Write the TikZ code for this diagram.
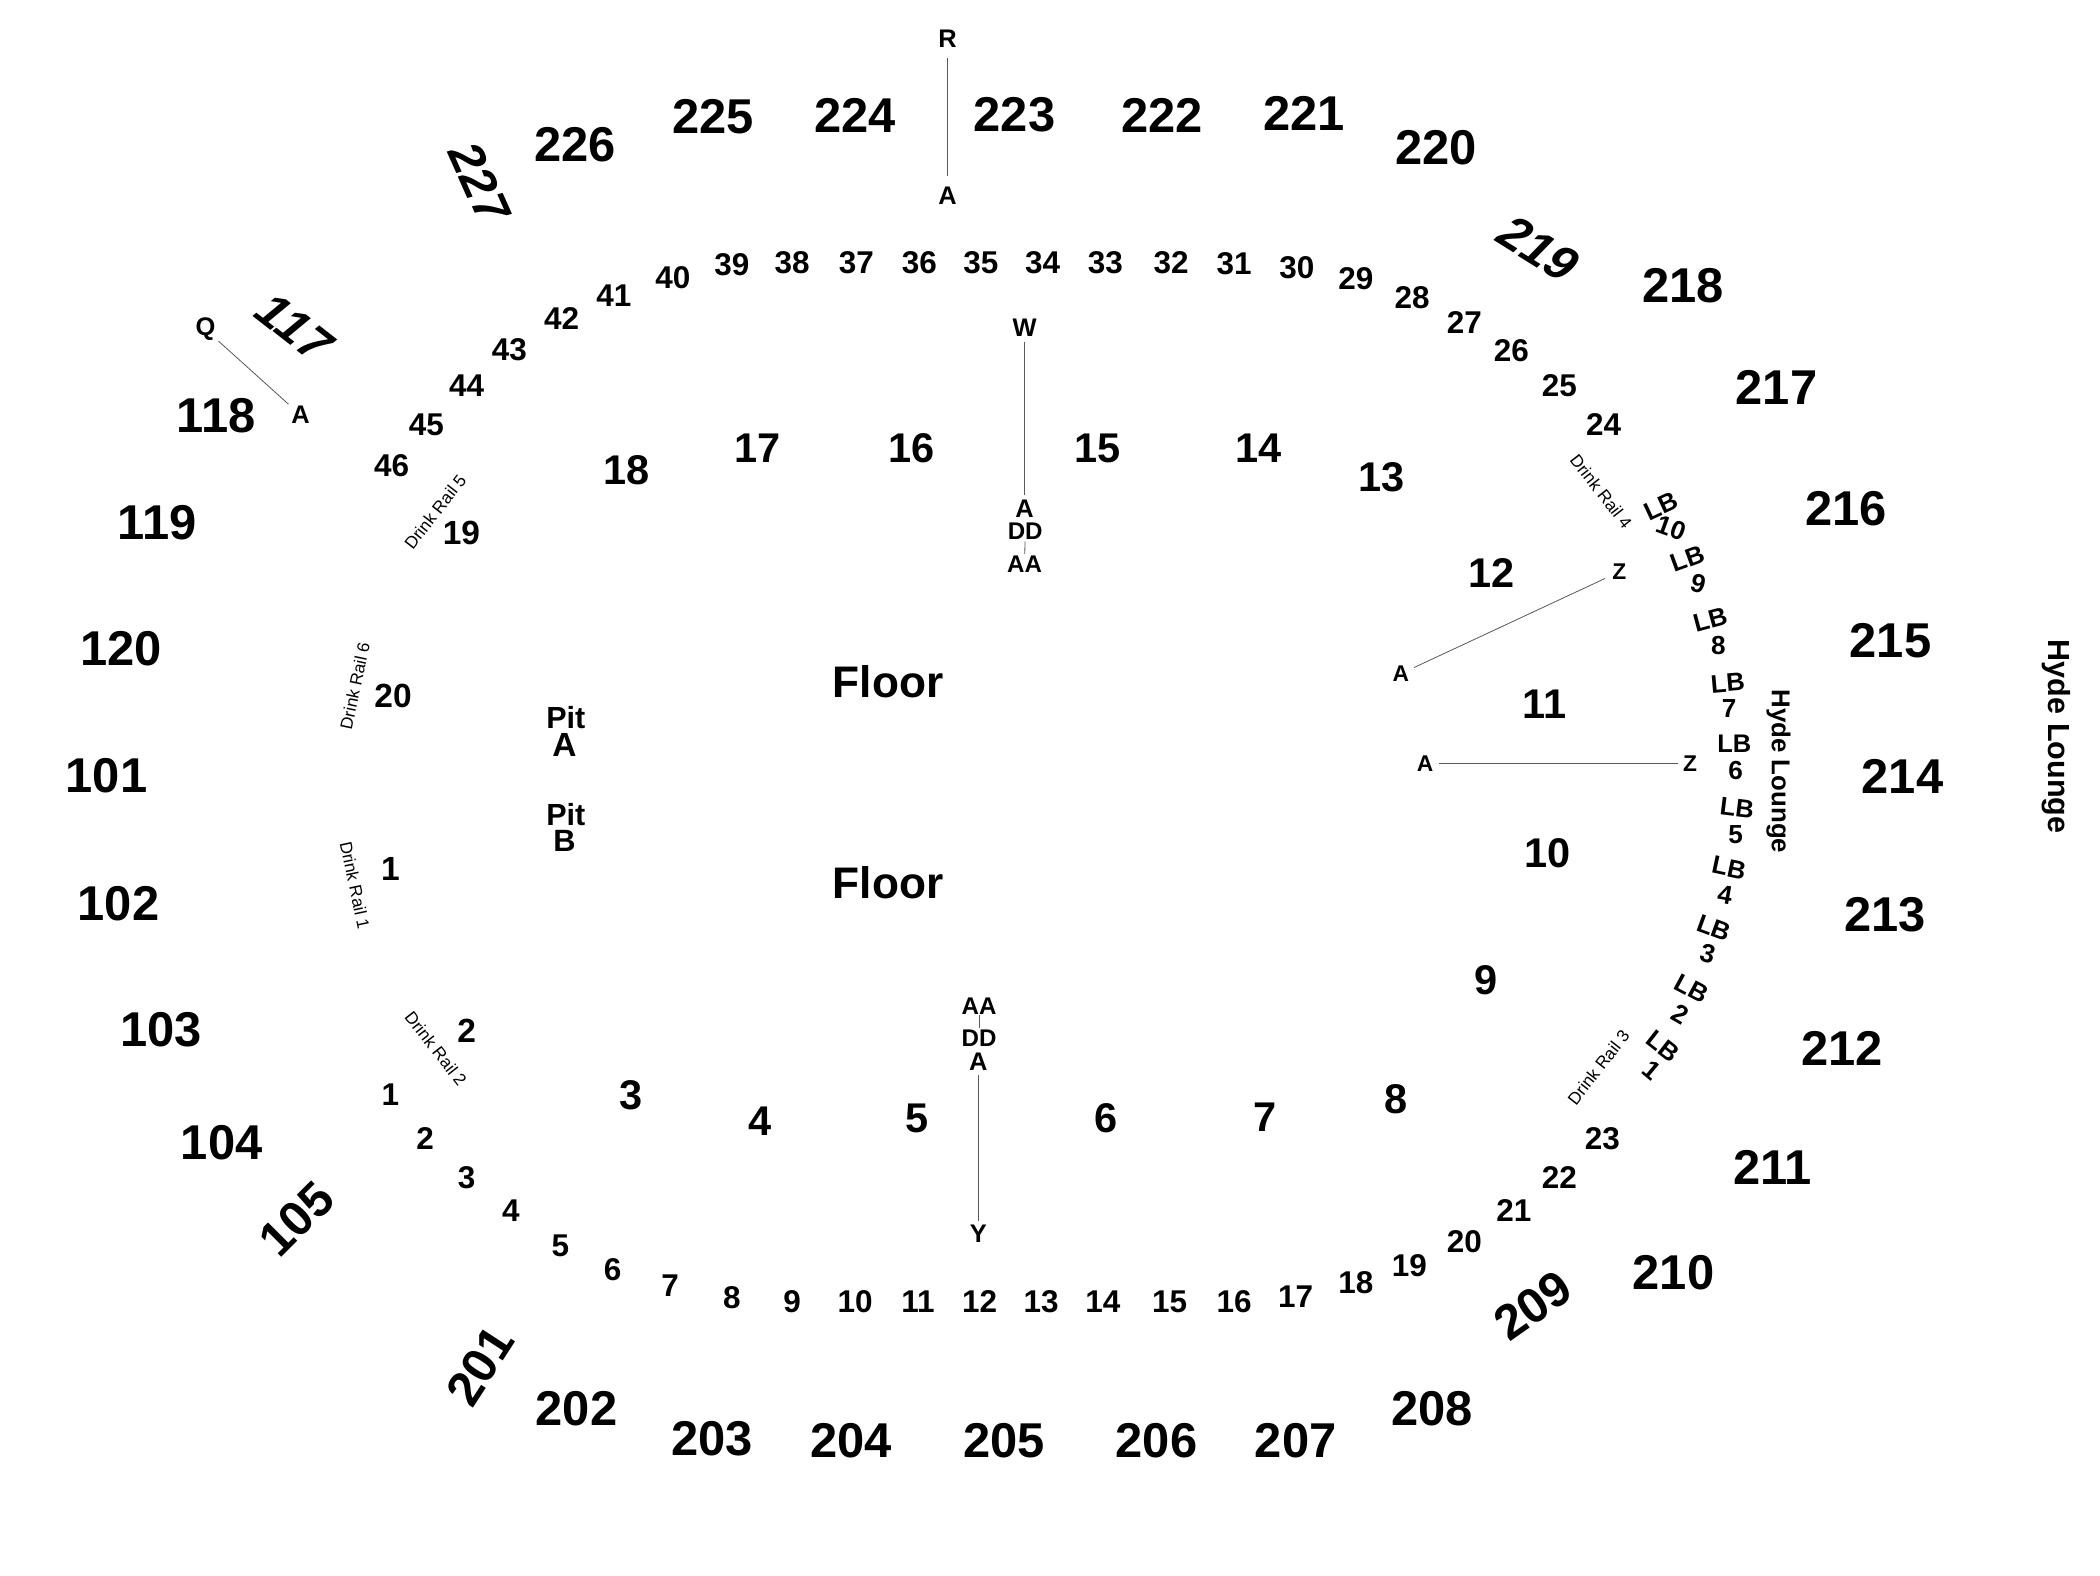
\documentclass[tikz,border=0pt]{standalone}
\usepackage{fontspec}
\setmainfont{Liberation Sans}
\newcommand{\fsz}[1]{\fontsize{#1}{#1}\selectfont\bfseries}
\tikzset{
  lab/.style={inner sep=0pt,outer sep=0pt,text=black,align=center},
  bignum/.style={lab,xshift=0.5pt,font=\fsz{36.5}},
  secnum/.style={lab,xshift=0.5pt,font=\fsz{31}},
  midnum/.style={lab,xshift=0.5pt,font=\fsz{25}},
  rownum/.style={lab,xshift=0.4pt,font=\fsz{23.5}},
  letter/.style={lab,font=\fsz{19}},
  pitlab/.style={lab,xshift=0.5pt,font=\fsz{22.8}},
  lblab/.style={lab,font=\fsz{19}},
  lbnum/.style={lab,font=\fsz{19.5}},
  floorlab/.style={lab,font=\fsz{33}},
  hyde/.style={lab,rotate=-90},
  rail/.style={lab,font=\fontsize{12.8}{12.8}\selectfont},
  warp/.style={transform shape},
  rowline/.style={draw=black!65,line width=0.6pt,shorten >=1pt,shorten <=1pt}
}
\begin{document}
\begin{tikzpicture}[x=1pt,y=-1pt]
\useasboundingbox[fill=white] (0,0) rectangle (1568,1176.7);
% outer sections
\foreach \x/\y/\t [count=\i] in {
 429/108/226,532/87/225,638/86/224,757/86/223,867/86/222,973/85/221,1072/110/220,
 1256/213/218,1326/289/217,1378/380/216,1411/478/215,1420/580/214,1407/683/213,
 1375/783/212,1323/872/211,1249/950/210,1069/1052/208,967/1076/207,863/1076/206,
 749/1076/205,635/1076/204,531/1074/203,430/1052/202,165/853/104,120/769/103,
 88/675/102,79/579/101,90/484/120,117/390/119,161/310/118}
  \node[bignum] (out\i) at (\x,\y) {\t};
% warped outer sections
\node[bignum,warp,rotate=-66,xslant=0.15] (w227) at (358,137) {227};
\node[bignum,warp,rotate=-38,xslant=0.22] (w117) at (220,245) {117};
\node[bignum,warp,rotate=-32,xslant=0.22] (w219) at (1149,186) {219};
\node[bignum,warp,rotate=35] (w209) at (1144,975) {209};
\node[bignum,warp,rotate=57] (w201) at (358,1020) {201};
\node[bignum,warp,rotate=45] (w105) at (221,910) {105};
% floor sections
\foreach \x/\y/\t [count=\i] in {
 467/351/18,565/335/17,680/335/16,819/335/15,939/335/14,1031/356/13,1113/428/12,
 1153/526/11,1155/637/10,1109/732/9,1042/821/8,944/834/7,825/835/6,684/835/5,567/837/4,471/818/3}
  \node[secnum] (sec\i) at (\x,\y) {\t};
\foreach \x/\y/\t [count=\i] in {344/398/19,293/520/20,291/649/1,348/770/2}
  \node[midnum] (mid\i) at (\x,\y) {\t};
% upper row numbers
\foreach \x/\y/\t [count=\i] in {
 292/348/46,318/317/45,348/288/44,380/261/43,419/238/42,458/221/41,502/207/40,546/198/39,
 591/196/38,639/196/37,686/196/36,732/196/35,778/196/34,825/196/33,874/196/32,921/197/31,
 968/200/30,1012/208/29,1054/222/28,1093/241/27,1128/262/26,1164/288/25,1197/317/24}
  \node[rownum] (up\i) at (\x,\y) {\t};
% lower row numbers
\foreach \x/\y/\t [count=\i] in {
 291/817/1,317/850/2,348/879/3,381/904/4,418/930/5,457/948/6,500/960/7,546/969/8,591/972/9,
 638/972/10,685/972/11,731/972/12,777/972/13,823/972/14,873/972/15,921/972/16,967/968/17,
 1012/958/18,1052/945/19,1093/927/20,1130/904/21,1164/879/22,1196/850/23}
  \node[rownum] (lo\i) at (\x,\y) {\t};
% floor
\node[floorlab] (floorA) at (663,509) {Floor};
\node[floorlab] (floorB) at (663,659) {Floor};
\node[pitlab] (pitA) at (422,536) {Pit};
\node[lab,xshift=0.5pt,font=\fsz{25}] (pitAa) at (421,556) {A};
\node[pitlab] (pitB) at (422,608) {Pit};
\node[lab,xshift=0.5pt,font=\fsz{23}] (pitBb) at (421,628) {B};
% row letters and their lines
\node[letter] (R) at (707.5,29) {R};
\node[letter] (Atop) at (707.5,146) {A};
\draw[rowline,shorten >=8pt,shorten <=8pt] (R) -- (Atop);
\node[letter] (W) at (765,245) {W};
\node[letter] (Aup) at (765,380) {A};
\node[letter,font=\fsz{18}] (DDup) at (765.5,397) {DD};
\node[letter,font=\fsz{18}] (AAup) at (765,421) {AA};
\draw[rowline,shorten >=4pt,shorten <=4pt] (W) -- (Aup);
\draw[rowline,shorten >=1pt,shorten <=1pt] (DDup) -- (AAup);
\node[letter,font=\fsz{18}] (AAlo) at (731,751) {AA};
\node[letter,font=\fsz{18}] (DDlo) at (731,775) {DD};
\node[letter] (Alo) at (730.5,793) {A};
\node[letter] (Y) at (730.5,921) {Y};
\draw[rowline] (AAlo) -- (DDlo);
\draw[rowline,shorten >=3pt,shorten <=3pt] (Alo) -- (Y);
\node[letter] (Q) at (153.5,246) {Q};
\node[letter] (Aq) at (224.5,310) {A};
\draw[rowline,shorten >=3pt,shorten <=3pt] (Q) -- (Aq);
\node[letter,font=\fsz{17}] (Z1) at (1209,427) {Z};
\node[letter,font=\fsz{17}] (A1) at (1046,503) {A};
\draw[rowline,shorten >=4pt,shorten <=6pt] (Z1) -- (A1);
\node[letter,font=\fsz{17}] (Z2) at (1262,570) {Z};
\node[letter,font=\fsz{17}] (A2) at (1064,570) {A};
\draw[rowline,shorten >=4pt,shorten <=4pt] (Z2) -- (A2);
% drink rails
\node[rail,rotate=-78] (dr1) at (265,661) {Drink Rail 1};
\node[rail,rotate=-52] (dr2) at (325.5,783) {Drink Rail 2};
\node[rail,rotate=52] (dr3) at (1193.5,797) {Drink Rail 3};
\node[rail,rotate=-52] (dr4) at (1195.5,367) {Drink Rail 4};
\node[rail,rotate=52] (dr5) at (325,382) {Drink Rail 5};
\node[rail,rotate=78] (dr6) at (265,512) {Drink Rail 6};
% Hyde Lounge
\node[hyde,font=\fsz{22.8}] (hyde1) at (1535,550) {Hyde Lounge};
\node[hyde,font=\fsz{19.3}] (hyde2) at (1328,576) {Hyde Lounge};
% lounge boxes
\foreach \x/\y/\r [count=\i] in {
 1242/781/-38,1263/738/-28,1280/693/-20,1291/648/-12,1297/603/-7,1295/555/0,1290/510/5,1277/463/15,1260/417/20,1240/378/25}
  \node[lblab,rotate=\r] (lb\i) at (\x,\y) {LB};
\foreach \x/\y/\t/\r [count=\i] in {
 1233/799/1/-40,1255/757/2/-30,1275/712/3/-15,1288/668/4/-10,1296/623/5/0,1296/575/6/0,1291/529/7/0,1283/482/8/0,1268/436/9/-15,1248/394/10/-20}
  \node[lbnum,rotate=\r] (lbn\i) at (\x,\y) {\t};
\end{tikzpicture}
\end{document}
